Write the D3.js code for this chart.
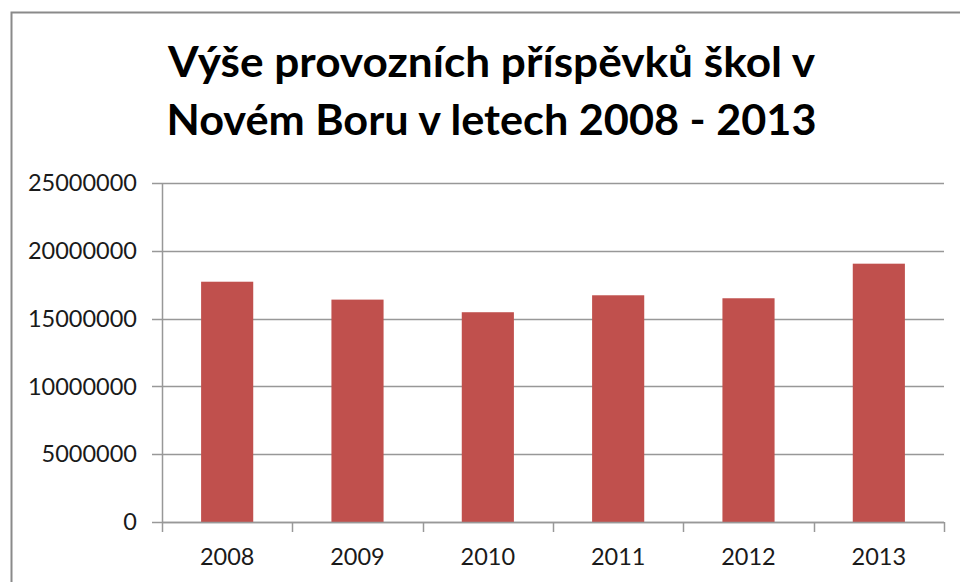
<!DOCTYPE html>
<html>
<head>
<meta charset="utf-8">
<script src="https://cdn.jsdelivr.net/npm/d3@7"></script>
<style>
  body { margin: 0; background: #fff; }
  svg { display: block; }
</style>
</head>
<body>
<svg id="chart" width="960" height="582" viewBox="0 0 960 582"></svg>
<script>
// data
const years = ["2008", "2009", "2010", "2011", "2012", "2013"]
const values = [17720000, 16400000, 15470000, 16720000, 16500000, 19050000]
const yTicks = [0, 5000000, 10000000, 15000000, 20000000, 25000000]
const titleLines = ["Výše provozních příspěvků škol v", "Novém Boru v letech 2008 - 2013"]

let svg = d3.select("#chart")
let margin = {left: 162, right: 16, top: 183, bottom: 60}
let width = 960, height = 582

// outer frame (runs off the right and bottom of the window)
svg.append("rect")
    .attr("x", 11.5).attr("y", 12.5)
    .attr("width", 1000).attr("height", 1000)
    .attr("fill", "none")
    .attr("stroke", "#8a8a8a")
    .attr("stroke-width", 2)

// title
let title = svg.append("g")
titleLines.forEach(function (t, i) {
    title.append("text")
        .attr("x", 491.5)
        .attr("y", 76.5 + i * 58.5)
        .attr("text-anchor", "middle")
        .attr("font-family", "Lato, 'Open Sans', sans-serif")
        .attr("font-weight", "bold")
        .attr("font-size", 42)
        .attr("fill", "#000")
        .attr("textLength", i === 0 ? 647 : 650)
        .attr("lengthAdjust", "spacingAndGlyphs")
        .text(t)
})

let x = d3.scaleBand()
    .domain(years)
    .range([margin.left, 944])
    .paddingInner(0.6)
    .paddingOuter(0.3)

let y = d3.scaleLinear()
    .domain([0, 25000000])
    .range([522, 183])

const gridColor = "#989898"

// horizontal gridlines
svg.append("g")
    .selectAll("line")
    .data(yTicks)
    .enter()
    .append("line")
    .attr("x1", margin.left - 10)
    .attr("x2", 944)
    .attr("y1", d => Math.round(y(d)) + 0.5)
    .attr("y2", d => Math.round(y(d)) + 0.5)
    .attr("stroke", gridColor)
    .attr("stroke-width", 1.5)

// y axis labels
svg.append("g")
    .selectAll("text")
    .data(yTicks)
    .enter()
    .append("text")
    .attr("x", 137)
    .attr("y", d => y(d))
    .attr("dy", "0.35em")
    .attr("text-anchor", "end")
    .attr("font-family", "Lato, 'Open Sans', sans-serif")
    .attr("font-size", 23.5)
    .attr("fill", "#1a1a1a")
    .text(d => d)

// bars
svg.append("g")
    .selectAll("rect")
    .data(values)
    .enter()
    .append("rect")
    .attr("x", (d, i) => x(years[i]))
    .attr("y", d => y(d))
    .attr("width", x.bandwidth())
    .attr("height", d => y(0) - y(d))
    .attr("fill", "#c0504d")

// y axis line
svg.append("line")
    .attr("x1", margin.left + 0.5).attr("x2", margin.left + 0.5)
    .attr("y1", 183).attr("y2", 522)
    .attr("stroke", gridColor)
    .attr("stroke-width", 1.5)

// x axis line + ticks between categories
let step = x.step()
let bounds = d3.range(years.length + 1).map(i => margin.left + i * (944 - margin.left) / years.length)
svg.append("line")
    .attr("x1", margin.left).attr("x2", 944)
    .attr("y1", 522.5).attr("y2", 522.5)
    .attr("stroke", gridColor)
    .attr("stroke-width", 1.5)
svg.append("g")
    .selectAll("line")
    .data(bounds)
    .enter()
    .append("line")
    .attr("x1", d => Math.round(d) + 0.5)
    .attr("x2", d => Math.round(d) + 0.5)
    .attr("y1", 522).attr("y2", 532)
    .attr("stroke", gridColor)
    .attr("stroke-width", 1.5)

// category labels
svg.append("g")
    .selectAll("text")
    .data(years)
    .enter()
    .append("text")
    .attr("x", d => x(d) + x.bandwidth() / 2)
    .attr("y", 565)
    .attr("text-anchor", "middle")
    .attr("font-family", "Lato, 'Open Sans', sans-serif")
    .attr("font-size", 23.5)
    .attr("fill", "#1a1a1a")
    .text(d => d)
</script>
</body>
</html>
